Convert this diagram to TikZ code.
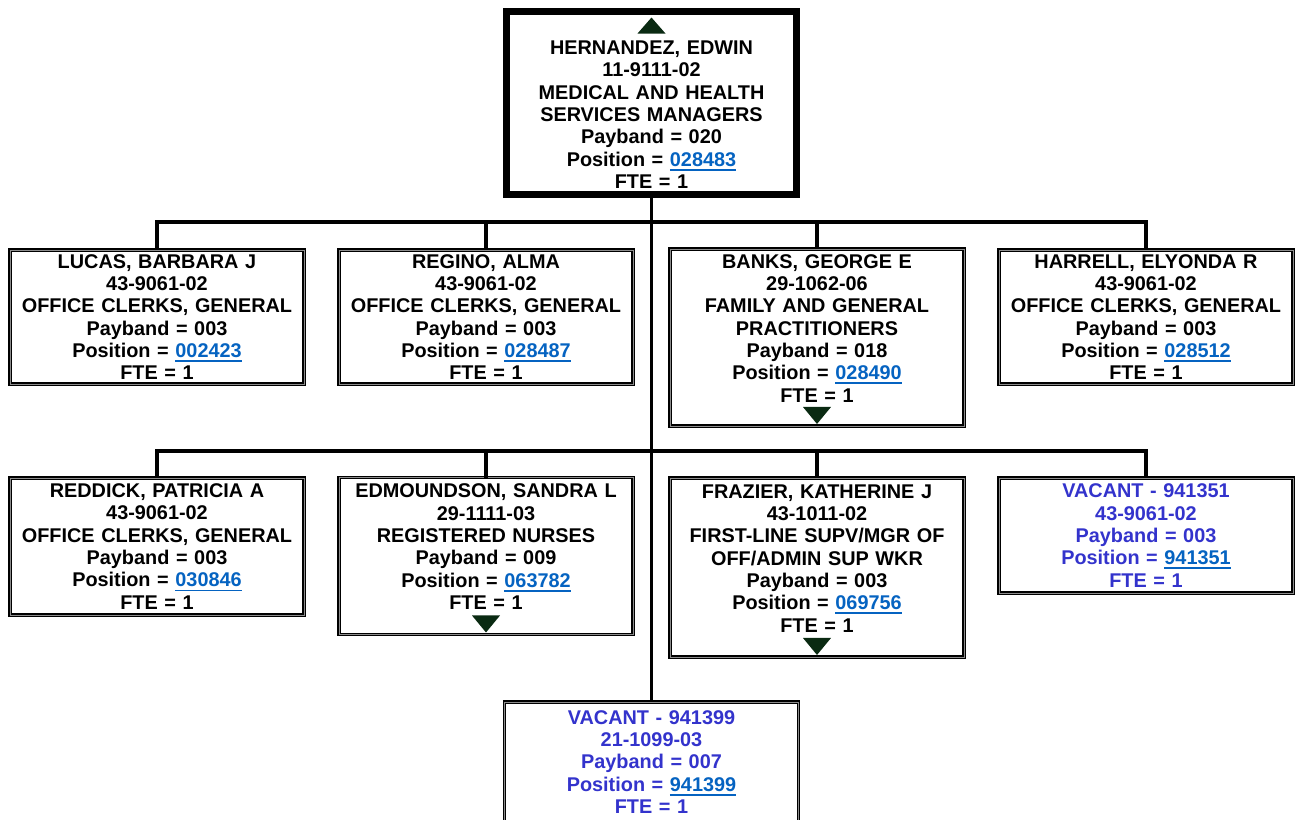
\documentclass[tikz,border=0pt]{standalone}
\usepackage{fontspec}
\setmainfont{Liberation Sans}
\usetikzlibrary{calc}

\definecolor{linkblue}{HTML}{0563C1}
\definecolor{vacblue}{HTML}{3333CC}
\definecolor{trigreen}{HTML}{0A2A12}

% underlined position number
\newcommand{\posnum}[1]{\textcolor{linkblue}{\setbox0\hbox{#1}\rlap{\rule[-2.6pt]{\wd0}{1.1pt}}\box0}}
% room for the triangle below the last line
\newcommand{\trigap}{\rule[-10.5pt]{0pt}{10.5pt}}

\begin{document}
\begin{tikzpicture}[x=0.02cm,y=-0.02cm,
	card/.style={draw,align=center,outer sep=0pt,inner ysep=0pt,
		font=\bfseries\fontsize{11.3pt}{12.7pt}\selectfont},
	box/.style={card,line width=0.9pt,double=black!45,double distance=0.3pt,
		text width=5.6cm,inner xsep=0.14cm},
	topbox/.style={card,line width=4pt,text width=5.5cm,inner xsep=0.15cm},
	vacant/.style={box,text=vacblue},
	conn/.style={line width=2pt},
	arrowtri/.style={fill=trigreen}]

\useasboundingbox (0,0) rectangle (1296,819);

%
% top of the chart
%
\node[topbox,minimum height=3.66cm] (hernandez) at (651.5,103)
	{\rule{0pt}{21pt}HERNANDEZ, EDWIN\\11-9111-02\\MEDICAL AND HEALTH\\SERVICES MANAGERS\\Payband = 020\\Position = \posnum{028483}\\FTE = 1};

%
% first row
%
\node[box,minimum height=2.68cm] (lucas) at (157,317)
	{LUCAS, BARBARA J\\43-9061-02\\OFFICE CLERKS, GENERAL\\Payband = 003\\Position = \posnum{002423}\\FTE = 1};
\node[box,minimum height=2.68cm] (regino) at (486,317)
	{REGINO, ALMA\\43-9061-02\\OFFICE CLERKS, GENERAL\\Payband = 003\\Position = \posnum{028487}\\FTE = 1};
\node[box,minimum height=3.54cm] (banks) at (817,337.5)
	{BANKS, GEORGE E\\29-1062-06\\FAMILY AND GENERAL\\PRACTITIONERS\\Payband = 018\\Position = \posnum{028490}\\FTE = 1\trigap};
\node[box,minimum height=2.68cm] (harrell) at (1146,317)
	{HARRELL, ELYONDA R\\43-9061-02\\OFFICE CLERKS, GENERAL\\Payband = 003\\Position = \posnum{028512}\\FTE = 1};

%
% second row
%
\node[box,minimum height=2.74cm] (reddick) at (157,546.5)
	{REDDICK, PATRICIA A\\43-9061-02\\OFFICE CLERKS, GENERAL\\Payband = 003\\Position = \posnum{030846}\\FTE = 1};
\node[box,minimum height=3.14cm] (edmoundson) at (486,556)
	{EDMOUNDSON, SANDRA L\\29-1111-03\\REGISTERED NURSES\\Payband = 009\\Position = \posnum{063782}\\FTE = 1\trigap};
\node[box,minimum height=3.58cm] (frazier) at (817,567.5)
	{FRAZIER, KATHERINE J\\43-1011-02\\FIRST-LINE SUPV/MGR OF\\OFF/ADMIN SUP WKR\\Payband = 003\\Position = \posnum{069756}\\FTE = 1\trigap};
\node[vacant,minimum height=2.3cm] (vac1) at (1146,535.5)
	{VACANT - 941351\\43-9061-02\\Payband = 003\\Position = \posnum{941351}\\FTE = 1};

%
% vacant position at the bottom
%
\node[vacant,minimum height=2.4cm] (vac2) at (651.5,762)
	{VACANT - 941399\\21-1099-03\\Payband = 007\\Position = \posnum{941399}\\FTE = 1};

%
% connectors
%
\coordinate (bus1) at (651.5,222);
\coordinate (bus2) at (651.5,451);
\draw[conn] (hernandez.south) -- (vac2.north);
\draw[conn] (lucas.north) |- (bus1) -| (harrell.north);
\draw[conn] (reddick.north) |- (bus2) -| (vac1.north);
\foreach \n/\b in {regino/bus1,banks/bus1,edmoundson/bus2,frazier/bus2}
	\draw[conn] (\n.north) -- (\n.north |- \b);

%
% triangles
%
\fill[arrowtri] (hernandez.north) ++(0,6) -- ++(-14,16) -- ++(28,0) -- cycle;
\foreach \n in {banks,edmoundson,frazier}
	\fill[arrowtri] (\n.south) ++(0,-2) -- ++(-14,-17) -- ++(28,0) -- cycle;

\end{tikzpicture}
\end{document}
